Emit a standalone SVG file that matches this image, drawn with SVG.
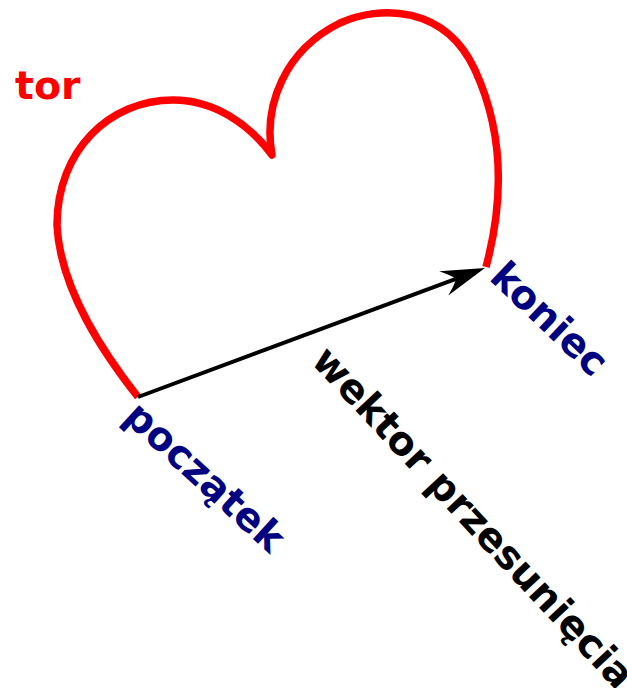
<svg xmlns="http://www.w3.org/2000/svg" width="627" height="688" viewBox="0 0 627 688">
<style>
.lbl{font-family:"DejaVu Sans",sans-serif;font-weight:bold;font-size:39.5px}
.pt{fill:#000080}
</style>
<defs>
<marker id="arr" markerUnits="userSpaceOnUse" orient="auto" viewBox="-46 -15 48 30" markerWidth="48" markerHeight="30" refX="-31" refY="0" overflow="visible">
<path d="M0,0 L-44,-13 Q-34,-5 -31,0 Q-34,5 -44,13 Z" fill="#000"/>
</marker>
</defs>
<rect width="627" height="688" fill="#fff"/>
<g id="tor">
<path d="M138,397 C105,355 60,290 57,225 C57,150 110,100 173,100 C215,100 250,125 272,155 C263,105 285,50 340,23 C380,5 445,5 475,70 C498,120 508,185 486,267" fill="none" stroke="#ff0000" stroke-width="7.5" stroke-linejoin="round"/>
<text class="lbl" x="15" y="99" fill="#ff0000">tor</text>
</g>
<g id="connectors">
<line x1="138" y1="397" x2="455.9" y2="278.8" stroke="#000" stroke-width="4" marker-end="url(#arr)"/>
</g>
<g id="poczatek">
<text class="lbl pt" transform="translate(122,419) rotate(42.5)">początek</text>
</g>
<g id="koniec">
<text class="lbl pt" transform="translate(488,279) rotate(43.5)">koniec</text>
</g>
<g id="wektor">
<text class="lbl" transform="translate(310,362) rotate(47)" fill="#000">wektor przesunięcia</text>
</g>
</svg>
